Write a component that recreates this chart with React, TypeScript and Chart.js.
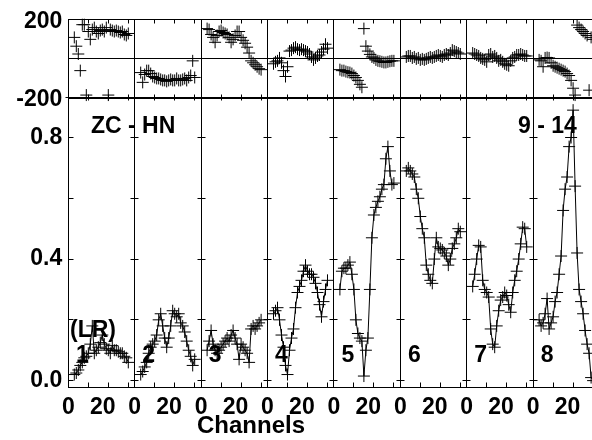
import React, { useEffect, useRef } from 'react';
import { Chart, registerables } from 'chart.js';

Chart.register(...registerables);

// ---------- data ----------
const channels = [3, 4, 5, 6, 7, 8, 9, 10, 11, 12, 13, 14, 15, 16, 17, 18, 19, 20, 21, 22, 23, 24, 25, 26, 27, 28, 29, 30];
const panelNames = ['1', '2', '3', '4', '5', '6', '7', '8'];

const amp1 = [0.02, 0.025, 0.035, 0.05, 0.06, 0.075, 0.08, 0.09, 0.12, 0.18, 0.09, 0.1, 0.11, 0.125, 0.15, 0.12, 0.105, 0.1, 0.09, 0.115, 0.1, 0.1, 0.095, 0.09, 0.09, 0.08, 0.075, 0.06];
const amp2 = [0.02, 0.03, 0.045, 0.06, 0.09, 0.11, 0.12, 0.13, 0.15, 0.2, 0.22, 0.18, 0.14, 0.11, 0.14, 0.18, 0.23, 0.22, 0.21, 0.22, 0.19, 0.18, 0.16, 0.13, 0.1, 0.08, 0.05, 0.07];
const amp3 = [0.1, 0.13, 0.165, 0.12, 0.1, 0.09, 0.1, 0.11, 0.12, 0.13, 0.14, 0.13, 0.15, 0.165, 0.14, 0.12, 0.07, 0.12, 0.11, 0.1, 0.09, 0.06, 0.17, 0.18, 0.17, 0.18, 0.19, 0.2];
const amp4 = [0.22, 0.23, 0.24, 0.2, 0.15, 0.11, 0.05, 0.02, 0.1, 0.14, 0.17, 0.24, 0.29, 0.31, 0.33, 0.36, 0.38, 0.36, 0.35, 0.35, 0.34, 0.32, 0.29, 0.25, 0.21, 0.26, 0.3, 0.33];
const amp5 = [0.3, 0.36, 0.37, 0.37, 0.38, 0.39, 0.35, 0.3, 0.2, 0.155, 0.14, 0.13, 0.015, 0.1, 0.14, 0.3, 0.47, 0.545, 0.57, 0.59, 0.605, 0.63, 0.645, 0.73, 0.77, 0.69, 0.645, 0.65];
const amp6 = [0.69, 0.7, 0.69, 0.68, 0.67, 0.63, 0.6, 0.54, 0.5, 0.47, 0.38, 0.35, 0.33, 0.32, 0.4, 0.47, 0.44, 0.435, 0.43, 0.42, 0.41, 0.38, 0.4, 0.435, 0.45, 0.47, 0.5, 0.49];
const amp7 = [0.31, 0.35, 0.4, 0.445, 0.44, 0.33, 0.3, 0.29, 0.275, 0.17, 0.12, 0.11, 0.18, 0.23, 0.265, 0.275, 0.29, 0.28, 0.25, 0.225, 0.29, 0.33, 0.36, 0.4, 0.45, 0.505, 0.5, 0.44];
const amp8 = [0.2, 0.18, 0.19, 0.22, 0.27, 0.17, 0.19, 0.21, 0.26, 0.29, 0.35, 0.41, 0.56, 0.63, 0.67, 0.77, 0.8, 0.89, 0.64, 0.42, 0.3, 0.26, 0.22, 0.165, 0.12, 0.09, 0.01, 0.0];

const phase1 = [110, 65, 25, -60, 175, 175, -185, 140, 100, 150, 160, 140, 130, 145, 150, 140, 160, -185, 150, 145, 140, 145, 140, 135, 140, 125, 120, 130];
const phase2 = [-70, -120, -80, -60, -60, -75, -90, -95, -100, -100, -105, -110, -110, -115, -110, -105, -110, -110, -100, -110, -110, -105, -100, -110, -95, -85, -10, -95];
const phase3 = [155, 150, 125, 110, 85, 120, 140, 145, 135, 130, 125, 110, 85, 100, 120, 140, 140, 110, 95, 80, 60, 30, -10, -20, -30, -40, -50, -55];
const phase4 = [-25, -15, -10, 5, -20, -60, -90, -40, 40, 45, 55, 60, 50, 45, 50, 45, 40, 35, 25, 10, -5, 5, 15, 20, 35, 50, 75, 55];
const phase5 = [-55, -60, -60, -65, -68, -70, -75, -85, -95, -110, -130, -145, 155, 65, 40, 23, 10, 5, -5, -10, -12, -15, -18, -18, -15, -12, -10, -10];
const phase6 = [10, 15, 15, 5, 10, 0, 5, -5, 0, -5, 0, 5, 10, 5, 10, 15, 20, 15, 10, 20, 25, 20, 30, 45, 40, 35, 30, 25];
const phase7 = [30, 25, 20, 15, 5, 0, -5, -15, 20, 25, 10, 15, 5, -10, -5, -15, -25, -30, -35, -10, 5, 10, 20, 20, 25, 20, 15, 15];
const phase8 = [-5, -10, -40, 5, 7, 5, -20, -35, -40, -45, -50, -55, -60, -65, -75, -85, -110, -150, -185, 173, 160, 150, 140, 130, 120, -160, 110, 100];

const ampSeries = [amp1, amp2, amp3, amp4, amp5, amp6, amp7, amp8];
const phaseSeries = [phase1, phase2, phase3, phase4, phase5, phase6, phase7, phase8];

const ampTickValues = [0, 0.4, 0.8];
const ampMinorTickValues = [0, 0.2, 0.4, 0.6, 0.8];
const phaseTickValues = [-200, 200];
const xTickLabels = ['0', '20'];
const xTickLabelChannels = [0, 17.2];
const xMinorTickChannels = [10, 20, 30];

const baselineLabel = 'ZC - HN';
const ifLabel = '9 - 14';
const polLabel = '(LR)';
const xTitle = 'Channels';

// ---------- layout ----------
const N = panelNames.length;
const PANEL_SPAN = 33.2;
const CW = 600;
const CH = 440;
const LEFT = 68.3;
const RIGHT_PAD = 0.5;
const TOP = 17.5;
const MID = 98;
const BOTTOM = 387;
const AMP_MIN = -0.021;
const AMP_MAX = 0.93;
const FONT = "'Liberation Sans', Arial, Helvetica, sans-serif";
const tickFont = { family: FONT, size: 23, weight: 'bold' as const };

const snap = (v: number) => Math.round(v - 0.5) + 0.5;

function line(ctx: CanvasRenderingContext2D, x1: number, y1: number, x2: number, y2: number) {
  ctx.beginPath();
  ctx.moveTo(x1, y1);
  ctx.lineTo(x2, y2);
  ctx.stroke();
}

const phaseFrame = {
  id: 'phaseFrame',
  beforeDatasetsDraw(chart: any) {
    const { ctx, chartArea: a, scales } = chart;
    const xs = scales.x;
    const ys = scales.y;
    ctx.save();
    ctx.strokeStyle = '#000';
    ctx.lineWidth = 1;
    const l = snap(a.left), r = snap(a.right), t = snap(a.top), b = snap(a.bottom);
    ctx.strokeRect(l, t, r - l, b - t);
    const y0 = snap(ys.getPixelForValue(0));
    line(ctx, l, y0, r, y0);
    line(ctx, l - 3, b, l, b);
    for (let i = 1; i < N; i++) {
      const px = snap(xs.getPixelForValue(i * PANEL_SPAN));
      line(ctx, px, t, px, b);
    }
    for (let i = 0; i < N; i++) {
      for (const c of xMinorTickChannels) {
        const px = snap(xs.getPixelForValue(i * PANEL_SPAN + c));
        line(ctx, px, t, px, t + 4);
        line(ctx, px, b - 3, px, b + 3);
      }
    }
    ctx.restore();
  },
};

const ampFrame = {
  id: 'ampFrame',
  beforeDatasetsDraw(chart: any) {
    const { ctx, chartArea: a, scales } = chart;
    const xs = scales.x;
    const ys = scales.y;
    ctx.save();
    ctx.strokeStyle = '#000';
    ctx.lineWidth = 1;
    const l = snap(a.left), r = snap(a.right), t = snap(a.top), b = snap(a.bottom);
    ctx.strokeRect(l, t, r - l, b - t);
    for (let i = 1; i < N; i++) {
      const px = snap(xs.getPixelForValue(i * PANEL_SPAN));
      line(ctx, px, t, px, b);
      for (const v of ampMinorTickValues) {
        const py = snap(ys.getPixelForValue(v));
        line(ctx, px - 4, py, px + 4, py);
      }
    }
    for (const v of ampMinorTickValues) {
      const py = snap(ys.getPixelForValue(v));
      line(ctx, l, py, l + 5, py);
    }
    for (let i = 0; i < N; i++) {
      for (const c of xMinorTickChannels) {
        const px = snap(xs.getPixelForValue(i * PANEL_SPAN + c));
        line(ctx, px, b, px, b - 5);
      }
    }
    ctx.restore();
  },
  afterDatasetsDraw(chart: any) {
    const { ctx, scales } = chart;
    const xs = scales.x;
    ctx.save();
    ctx.fillStyle = '#000';
    ctx.font = `bold 23px ${FONT}`;
    ctx.textBaseline = 'middle';
    ctx.textAlign = 'left';
    ctx.fillText(baselineLabel, 91, 127);
    ctx.fillText(ifLabel, 518, 127);
    ctx.fillText(polLabel, 70, 331);
    ctx.textAlign = 'center';
    panelNames.forEach((name, i) => {
      const px = xs.getPixelForValue(i * PANEL_SPAN) + 14;
      ctx.fillText(name, px, 356);
    });
    ctx.font = `bold 24px ${FONT}`;
    ctx.fillText(xTitle, 251, 426);
    ctx.restore();
  },
};

function phaseConfig(): any {
  return {
    type: 'scatter',
    data: {
      datasets: phaseSeries.map((s, i) => ({
        label: 'phase ' + panelNames[i],
        data: channels.map((c, k) => ({ x: i * PANEL_SPAN + c, y: s[k] })),
        showLine: false,
        pointStyle: 'cross',
        pointRadius: 6,
        pointBorderWidth: 1,
        borderColor: '#000',
        backgroundColor: '#000',
        clip: false,
      })),
    },
    options: {
      responsive: false,
      animation: false,
      devicePixelRatio: 1,
      events: [],
      layout: { autoPadding: false, padding: { left: 0, right: RIGHT_PAD, top: TOP, bottom: CH - MID } },
      plugins: { legend: { display: false }, tooltip: { enabled: false } },
      scales: {
        x: { type: 'linear', display: false, min: 0, max: N * PANEL_SPAN },
        y: {
          type: 'linear',
          min: -200,
          max: 200,
          afterFit: (s: any) => { s.width = LEFT; },
          afterBuildTicks: (s: any) => { s.ticks = phaseTickValues.map((v) => ({ value: v })); },
          grid: { display: false, drawTicks: false },
          border: { display: false },
          ticks: { color: '#000', font: tickFont, padding: 6, labelOffset: 2, callback: (v: any) => String(v) },
        },
      },
    },
    plugins: [phaseFrame],
  };
}

function ampConfig(): any {
  return {
    type: 'scatter',
    data: {
      datasets: ampSeries.map((s, i) => ({
        label: 'amp ' + panelNames[i],
        data: channels.map((c, k) => ({ x: i * PANEL_SPAN + c, y: s[k] })),
        showLine: true,
        tension: 0,
        fill: false,
        pointStyle: 'cross',
        pointRadius: 6,
        pointBorderWidth: 1,
        borderWidth: 1,
        borderColor: '#000',
        backgroundColor: '#000',
        clip: false,
      })),
    },
    options: {
      responsive: false,
      animation: false,
      devicePixelRatio: 1,
      events: [],
      layout: { autoPadding: false, padding: { left: 0, right: RIGHT_PAD, top: MID, bottom: 0 } },
      plugins: { legend: { display: false }, tooltip: { enabled: false } },
      scales: {
        x: {
          type: 'linear',
          min: 0,
          max: N * PANEL_SPAN,
          afterFit: (s: any) => { s.height = CH - BOTTOM; },
          afterBuildTicks: (s: any) => {
            const t: any[] = [];
            for (let i = 0; i < N; i++) for (const c of xTickLabelChannels) t.push({ value: i * PANEL_SPAN + c });
            s.ticks = t;
          },
          grid: { display: false, drawTicks: false },
          border: { display: false },
          ticks: {
            color: '#000',
            font: tickFont,
            padding: 7,
            autoSkip: false,
            maxRotation: 0,
            minRotation: 0,
            callback: (_v: any, idx: number) => xTickLabels[idx % xTickLabels.length],
          },
        },
        y: {
          type: 'linear',
          min: AMP_MIN,
          max: AMP_MAX,
          afterFit: (s: any) => { s.width = LEFT; },
          afterBuildTicks: (s: any) => { s.ticks = ampTickValues.map((v) => ({ value: v })); },
          grid: { display: false, drawTicks: false },
          border: { display: false },
          ticks: { color: '#000', font: tickFont, padding: 6, callback: (v: any) => Number(v).toFixed(1) },
        },
      },
    },
    plugins: [ampFrame],
  };
}

export default function App() {
  const phaseRef = useRef<HTMLCanvasElement>(null);
  const ampRef = useRef<HTMLCanvasElement>(null);

  useEffect(() => {
    const c2 = new Chart(ampRef.current as HTMLCanvasElement, ampConfig());
    const c1 = new Chart(phaseRef.current as HTMLCanvasElement, phaseConfig());
    return () => {
      c1.destroy();
      c2.destroy();
    };
  }, []);

  const canvasStyle: React.CSSProperties = { position: 'absolute', left: 0, top: 0, width: CW, height: CH, display: 'block' };
  return (
    <div style={{ position: 'fixed', left: 0, top: 0, width: 592, height: 440, overflow: 'hidden', background: '#fff' }}>
      <canvas ref={ampRef} width={CW} height={CH} style={canvasStyle} />
      <canvas ref={phaseRef} width={CW} height={CH} style={canvasStyle} />
    </div>
  );
}
